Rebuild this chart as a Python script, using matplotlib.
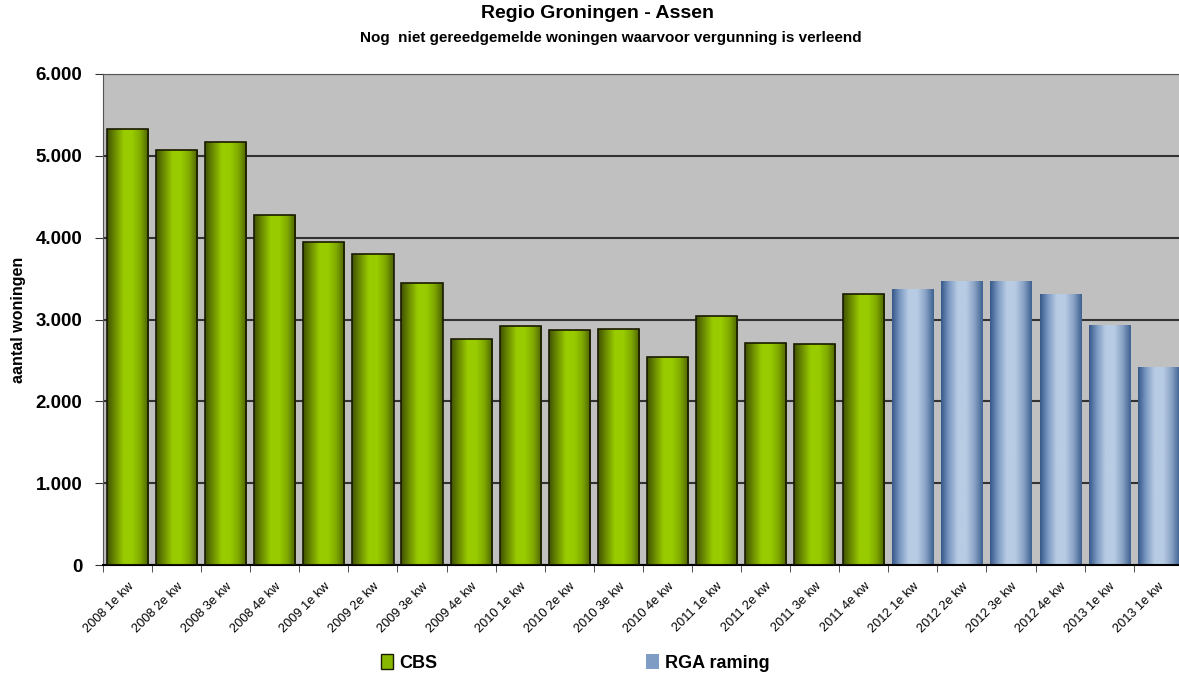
import matplotlib.pyplot as plt
import numpy as np
from matplotlib.colors import LinearSegmentedColormap
from matplotlib.patches import Rectangle

plt.rcParams['font.family'] = ['Liberation Sans', 'DejaVu Sans']

kwartalen = ['2008 1e kw', '2008 2e kw', '2008 3e kw', '2008 4e kw',
             '2009 1e kw', '2009 2e kw', '2009 3e kw', '2009 4e kw',
             '2010 1e kw', '2010 2e kw', '2010 3e kw', '2010 4e kw',
             '2011 1e kw', '2011 2e kw', '2011 3e kw', '2011 4e kw',
             '2012 1e kw', '2012 2e kw', '2012 3e kw', '2012 4e kw',
             '2013 1e kw', '2013 1e kw']
cbs = [5333, 5075, 5169, 4277, 3948, 3797, 3451, 2761, 2920, 2866,
       2878, 2545, 3041, 2712, 2700, 3317]
rga = [3377, 3475, 3475, 3315, 2935, 2420]

groen = LinearSegmentedColormap.from_list(
    'groen', ['#3f5200', '#6e8f00', '#99cc00', '#99cc00', '#7fa800', '#4a6000'])
blauw = LinearSegmentedColormap.from_list(
    'blauw', ['#35588a', '#7f9cc4', '#b8cce4', '#b8cce4', '#8aa3c6', '#3d6090'])

fig = plt.figure(figsize=(11.79, 6.75), dpi=100)
ax = fig.add_axes([103 / 1179, 110 / 675, 1 - 103 / 1179 + 0.002, 491 / 675])
ax.set_facecolor('#c0c0c0')

x = np.arange(len(kwartalen))
breedte = 0.84
grad = np.linspace(0, 1, 256).reshape(1, -1)

def teken(xs, waarden, cmap, rand):
    bars = ax.bar(xs, waarden, width=breedte, color='none',
                  edgecolor=rand, linewidth=1.2 if rand != 'none' else 0, zorder=3)
    for b in bars:
        x0, y0 = b.get_x(), b.get_y()
        w, h = b.get_width(), b.get_height()
        im = ax.imshow(grad, cmap=cmap, aspect='auto', extent=[x0, x0 + w, y0, y0 + h],
                       zorder=2, interpolation='bicubic')
        im.set_clip_path(b)
    return bars

teken(x[:len(cbs)], cbs, groen, '#1a1a00')
teken(x[len(cbs):], rga, blauw, 'none')

ax.set_xlim(-0.5, len(kwartalen) - 0.53)
ax.set_ylim(0, 6000)
ax.set_yticks(range(0, 7000, 1000))
ax.set_yticklabels(['0', '1.000', '2.000', '3.000', '4.000', '5.000', '6.000'],
                   fontsize=13.5, fontweight='bold')
ax.yaxis.grid(True, color='#333333', linewidth=1.5, zorder=1)
ax.set_axisbelow(True)

ax.set_xticks(x - 0.5, minor=True)
ax.set_xticks(x)
ax.set_xticklabels(kwartalen, rotation=45, ha='right', rotation_mode='anchor',
                   fontsize=9.2)
ax.tick_params(axis='x', which='major', length=0, pad=11)
ax.tick_params(axis='x', which='minor', length=5, color='#333333')
ax.tick_params(axis='y', length=6, color='#333333', pad=9)

for s in ['top', 'left']:
    ax.spines[s].set_color('#555555')
ax.spines['bottom'].set_color('black')
ax.spines['bottom'].set_linewidth(1.5)
ax.spines['right'].set_visible(False)

ax.set_ylabel('aantal woningen', fontsize=11.5, fontweight='bold')
ax.yaxis.set_label_coords(-77 / 1076, 0.5)

fig.text(0.5 + 8 / 1179, 1 - 14 / 675, 'Regio Groningen - Assen', ha='center', va='center',
         fontsize=14, fontweight='bold')
fig.text(0.518, 1 - 38 / 675, 'Nog  niet gereedgemelde woningen waarvoor vergunning is verleend',
         ha='center', va='center', fontsize=11, fontweight='bold')

handles = [Rectangle((0, 0), 1, 1, facecolor='#88b800', edgecolor='#1a1a00'),
           Rectangle((0, 0), 1, 1, facecolor='#7f9cc4', edgecolor='none')]
fig.legend(handles, ['CBS', 'RGA raming'], loc='center', bbox_to_anchor=(575 / 1179, 0.018),
           ncol=2, frameon=False, prop={'size': 13, 'weight': 'bold'},
           handlelength=0.7, handleheight=0.9, handletextpad=0.3, columnspacing=11.6)

fig.savefig('out.png', dpi=100)
